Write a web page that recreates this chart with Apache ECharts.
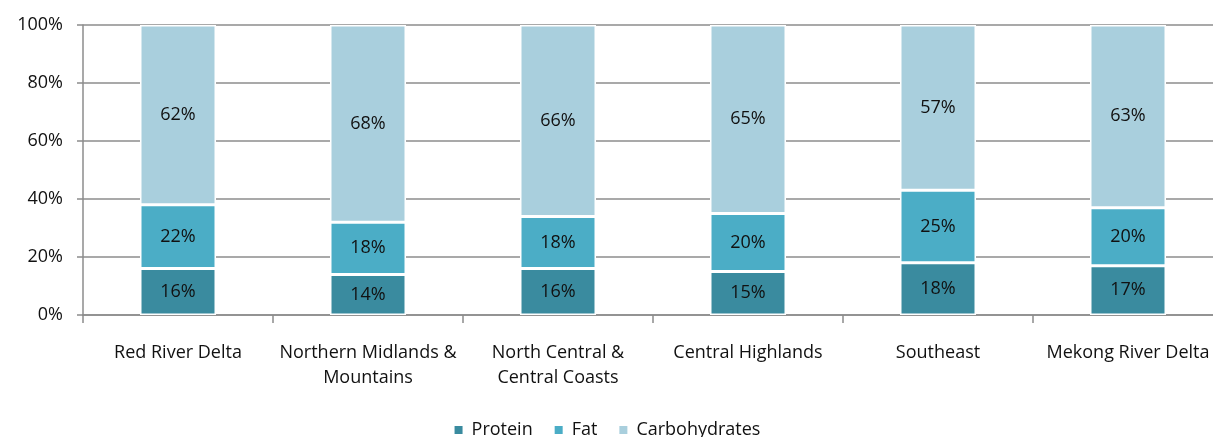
<!DOCTYPE html>
<html>
<head>
<meta charset="utf-8">
<script src="https://cdn.jsdelivr.net/npm/echarts@6/dist/echarts.min.js"></script>
<style>
  html, body { margin: 0; padding: 0; background: #fff; }
  #chart { width: 1213px; height: 437px; }
</style>
</head>
<body>
<div id="chart"></div>
<script>
// Share of energy intake by macronutrient, per region (%)
const regions = [
  'Red River Delta',
  'Northern Midlands &\nMountains',
  'North Central &\nCentral Coasts',
  'Central Highlands',
  'Southeast',
  'Mekong River Delta'
];
const protein = [16, 14, 16, 15, 18, 17];
const fat = [22, 18, 18, 20, 25, 20];
const carbohydrates = [62, 68, 66, 65, 57, 63];

const FONT = '"Open Sans", Lato, sans-serif';
const FONT_SIZE = 18;
const AXIS_GREY = '#8c8c8c';

function stackSeries(name, values, color) {
  return {
    name: name,
    type: 'bar',
    stack: 'total',
    data: values,
    barWidth: 76,
    itemStyle: { color: color, borderColor: '#ffffff', borderWidth: 1.5 },
    label: {
      show: true,
      position: 'inside',
      formatter: '{c}%',
      color: '#111',
      fontFamily: FONT,
      fontSize: FONT_SIZE
    }
  };
}

const chart = echarts.init(document.getElementById('chart'));
chart.setOption({
  animation: false,
  grid: { left: 83, top: 25, width: 1140, height: 290, containLabel: false, outerBoundsMode: 'none' },
  legend: {
    bottom: -7,
    left: 'center',
    itemWidth: 10,
    itemHeight: 10,
    itemGap: 20,
    icon: 'rect',
    textStyle: { fontFamily: FONT, fontSize: FONT_SIZE, color: '#111', padding: [0, 0, 0, 3] },
    data: ['Protein', 'Fat', 'Carbohydrates']
  },
  xAxis: {
    type: 'category',
    data: regions,
    axisLine: { lineStyle: { color: AXIS_GREY, width: 1.5 } },
    axisTick: { show: true, length: 8, alignWithLabel: false, lineStyle: { color: AXIS_GREY, width: 1.5 } },
    axisLabel: { fontFamily: FONT, fontSize: FONT_SIZE, color: '#111', margin: 25, lineHeight: 25, interval: 0 }
  },
  yAxis: {
    type: 'value',
    min: 0,
    max: 100,
    interval: 20,
    axisLine: { show: true, lineStyle: { color: AXIS_GREY, width: 1.5 } },
    axisTick: { show: true, length: 6, inside: false, lineStyle: { color: AXIS_GREY, width: 1.5 } },
    splitLine: { lineStyle: { color: AXIS_GREY, width: 1.5 } },
    axisLabel: { formatter: '{value}%', fontFamily: FONT, fontSize: FONT_SIZE, color: '#111', margin: 20 }
  },
  series: [
    stackSeries('Protein', protein, '#3a8b9f'),
    stackSeries('Fat', fat, '#4badc6'),
    stackSeries('Carbohydrates', carbohydrates, '#a9cfdd')
  ]
});
</script>
</body>
</html>
